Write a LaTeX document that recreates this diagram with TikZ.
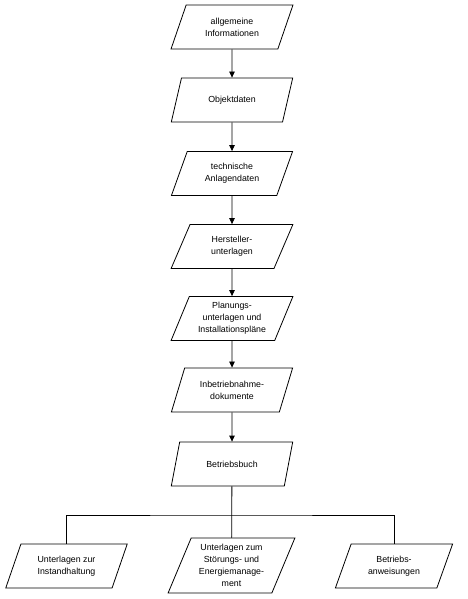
\documentclass[tikz,border=0pt]{standalone}
\usepackage{fontspec}
\setmainfont{Liberation Sans}
\usetikzlibrary{arrows.meta, shapes.geometric}
\tikzset{
  docnode/.style={trapezium, trapezium left angle=67, trapezium right angle=113,
    trapezium stretches=true, draw, line width=0.8pt, align=center,
    minimum width=122pt, minimum height=44pt, inner sep=2pt,
    font=\fontsize{8.8}{12}\selectfont},
  flow/.style={-{Triangle[length=6pt,width=5.5pt]}, line width=0.8pt},
  link/.style={line width=0.8pt},
}

\begin{document}
\begin{tikzpicture}[x=1pt, y=-1pt]
  \useasboundingbox (0,0) rectangle (467,599);
  % main column
  \node[docnode] (info)   at (232,27)    {allgemeine\\Informationen};
  \node[docnode] (obj)    at (232,100)   {Objektdaten};
  \node[docnode] (tech)   at (232,173.5) {technische\\Anlagendaten};
  \node[docnode] (herst)  at (232,246.5) {Hersteller-\\unterlagen};
  \node[docnode] (plan)   at (232,318.5) {Planungs-\\unterlagen und\\Installationspläne};
  \node[docnode] (inbetr) at (232,390)   {Inbetriebnahme-\\dokumente};
  \node[docnode] (buch)   at (232,464)   {Betriebsbuch};
  % bottom row
  \node[docnode] (inst)   at (66.5,566)  {Unterlagen zur\\Instandhaltung};
  \node[docnode, minimum height=55pt, minimum width=127pt]
                 (stoer)  at (231.5,565.5) {Unterlagen zum\\Störungs- und\\Energiemanage-\\ment};
  \node[docnode, minimum width=118pt] (anw) at (394,566) {Betriebs-\\anweisungen};
  \coordinate (bar) at (232,515);

  \foreach \a/\b in {info/obj, obj/tech, tech/herst, herst/plan, plan/inbetr, inbetr/buch}
    \draw[flow] (\a) -- (\b);
  % branches
  \draw[link] (buch) -- (stoer);
  \draw[link] (inst.north) |- (bar) -| (anw.north);
\end{tikzpicture}
\end{document}
